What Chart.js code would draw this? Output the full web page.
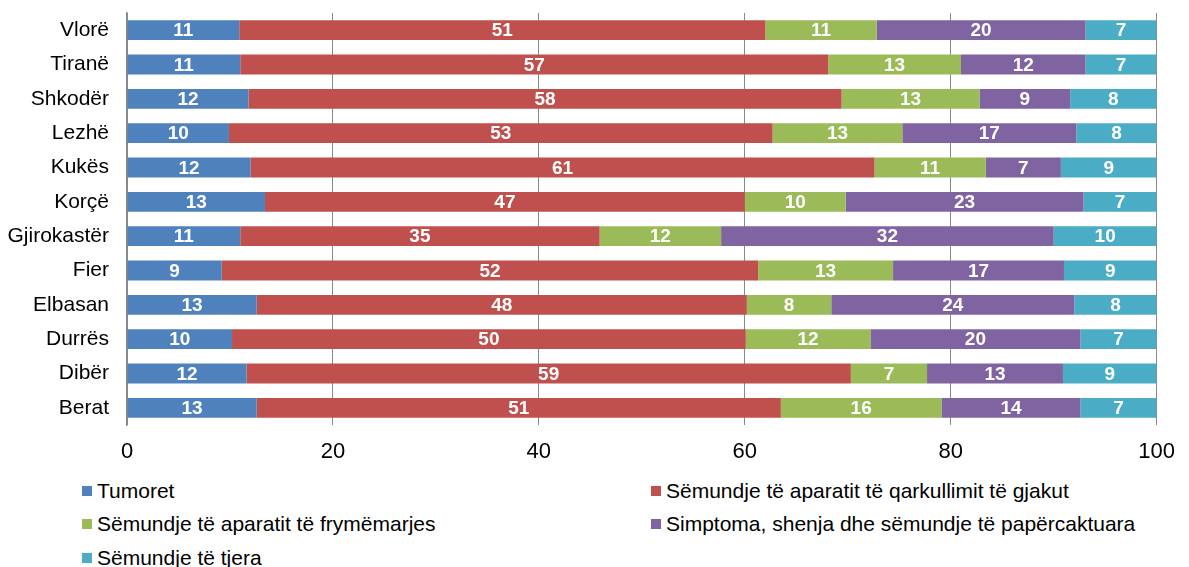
<!DOCTYPE html>
<html>
<head>
<meta charset="utf-8">
<script src="https://cdn.jsdelivr.net/npm/chart.js@4/dist/chart.umd.min.js"></script>
<style>
  html, body { margin: 0; padding: 0; background: #fff; }
  #wrap { position: relative; width: 1189px; height: 567px; overflow: hidden; }
  #legend { position: absolute; left: 82px; top: 474px; width: 1100px;
    display: grid; grid-template-columns: 569px auto; row-gap: 0;
    font-family: "Liberation Sans", Arial, sans-serif; font-size: 21px; color: #000; }
  .item { display: flex; align-items: center; height: 33.5px; white-space: nowrap; }
  .box { width: 10px; height: 10px; margin-right: 5px; flex: none; }
</style>
</head>
<body>
<div id="wrap">
  <canvas id="myChart" width="1189" height="470"></canvas>
  <div id="legend"></div>
</div>
<script>
const regions = ['Vlorë', 'Tiranë', 'Shkodër', 'Lezhë', 'Kukës', 'Korçë', 'Gjirokastër', 'Fier', 'Elbasan', 'Durrës', 'Dibër', 'Berat'];

const tumoret =    [10.9, 11.0, 11.8,  9.9, 12.0, 13.4, 11.0,  9.2, 12.6, 10.2, 11.6, 12.6];
const qarkullimi = [51.1, 57.1, 57.6, 52.8, 60.6, 46.6, 34.9, 52.1, 47.6, 49.9, 58.7, 50.9];
const frymemarja = [10.8, 12.9, 13.4, 12.6, 10.8,  9.8, 11.8, 13.1,  8.2, 12.1,  7.4, 15.6];
const simptoma =   [20.3, 12.1,  8.8, 16.9,  7.3, 23.1, 32.3, 16.6, 23.6, 20.4, 13.2, 13.5];
const teTjera =    [ 6.9,  6.9,  8.4,  7.8,  9.3,  7.1, 10.0,  9.0,  8.0,  7.4,  9.1,  7.4];

const xTicks = [0, 20, 40, 60, 80, 100];

const series = [
  { label: 'Tumoret', data: tumoret, color: '#4F81BD' },
  { label: 'Sëmundje të aparatit të qarkullimit të gjakut', data: qarkullimi, color: '#C0504D' },
  { label: 'Sëmundje të aparatit të frymëmarjes', data: frymemarja, color: '#9BBB59' },
  { label: 'Simptoma, shenja dhe sëmundje të papërcaktuara', data: simptoma, color: '#8064A2' },
  { label: 'Sëmundje të tjera', data: teTjera, color: '#4BACC6' }
];

const FONT = '"Liberation Sans", Arial, sans-serif';

// white numbers inside each segment
const barLabels = {
  id: 'barLabels',
  afterDatasetsDraw(chart) {
    const ctx = chart.ctx;
    ctx.save();
    ctx.font = 'bold 19px ' + FONT;
    ctx.fillStyle = '#fff';
    ctx.textAlign = 'center';
    ctx.textBaseline = 'middle';
    chart.data.datasets.forEach((ds, i) => {
      chart.getDatasetMeta(i).data.forEach((bar, j) => {
        const p = bar.getCenterPoint();
        ctx.fillText(Math.round(ds.data[j]), p.x, p.y + 1);
      });
    });
    ctx.restore();
  }
};

new Chart(document.getElementById('myChart'), {
  type: 'bar',
  data: {
    labels: regions,
    datasets: series.map(s => ({
      label: s.label,
      data: s.data,
      backgroundColor: s.color,
      borderWidth: 0,
      barPercentage: 0.58,
      categoryPercentage: 1
    }))
  },
  options: {
    indexAxis: 'y',
    responsive: false,
    animation: false,
    layout: { padding: { top: 13, right: 25, left: 0, bottom: 0 } },
    plugins: {
      legend: { display: false },
      tooltip: { enabled: false }
    },
    scales: {
      x: {
        stacked: true,
        min: 0,
        max: 100,
        afterBuildTicks: (scale) => { scale.ticks = xTicks.map(v => ({ value: v })); },
        afterFit: (scale) => { scale.height = 45; },
        grid: { color: '#898989', lineWidth: 1, drawTicks: false },
        border: { display: false },
        ticks: { color: '#000', font: { family: FONT, size: 22 }, padding: 14 }
      },
      y: {
        stacked: true,
        afterFit: (scale) => {
          scale.width = 127;
          scale.paddingTop = 0;
          scale.paddingBottom = 0;
        },
        grid: { display: false, drawTicks: false },
        border: { display: true, color: '#898989', width: 1.5 },
        ticks: { color: '#000', font: { family: FONT, size: 21 }, padding: 18 }
      }
    }
  },
  plugins: [barLabels]
});

const legend = document.getElementById('legend');
series.forEach(s => {
  const item = document.createElement('div');
  item.className = 'item';
  const box = document.createElement('span');
  box.className = 'box';
  box.style.background = s.color;
  item.appendChild(box);
  item.appendChild(document.createTextNode(s.label));
  legend.appendChild(item);
});
</script>
</body>
</html>
